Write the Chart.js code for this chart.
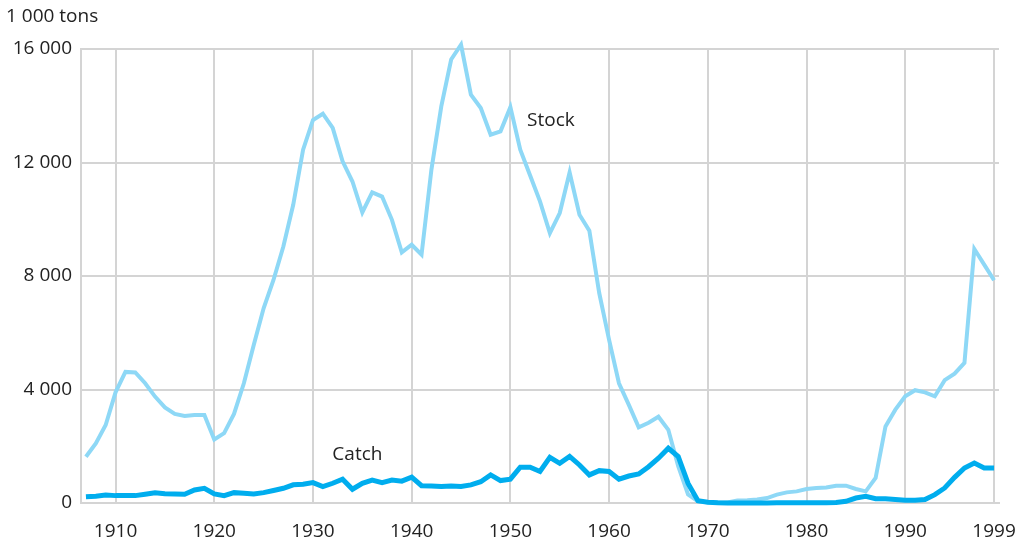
<!DOCTYPE html>
<html>
<head>
<meta charset="utf-8">
<script src="https://cdn.jsdelivr.net/npm/chart.js@4"></script>
<style>
  html, body { margin: 0; padding: 0; background: #ffffff; }
  #wrap { position: relative; width: 1020px; height: 541px; }
</style>
</head>
<body>
<div id="wrap"><canvas id="c" width="1020" height="541"></canvas></div>
<script>
const years = [1907,1908,1909,1910,1911,1912,1913,1914,1915,1916,1917,1918,1919,
  1920,1921,1922,1923,1924,1925,1926,1927,1928,1929,
  1930,1931,1932,1933,1934,1935,1936,1937,1938,1939,
  1940,1941,1942,1943,1944,1945,1946,1947,1948,1949,
  1950,1951,1952,1953,1954,1955,1956,1957,1958,1959,
  1960,1961,1962,1963,1964,1965,1966,1967,1968,1969,
  1970,1971,1972,1973,1974,1975,1976,1977,1978,1979,
  1980,1981,1982,1983,1984,1985,1986,1987,1988,1989,
  1990,1991,1992,1993,1994,1995,1996,1997,1998,1999];

const stock = [1630,2100,2750,3900,4620,4600,4220,3750,3370,3140,3070,3100,3100,
  2240,2460,3140,4220,5570,6860,7860,9040,10510,12450,
  13500,13720,13220,12040,11330,10240,10950,10800,9980,8830,
  9100,8750,11750,13980,15630,16150,14390,13920,12980,13100,
  13950,12450,11540,10630,9510,10220,11650,10160,9600,7400,
  5750,4220,3460,2670,2830,3040,2580,1300,300,60,
  30,20,20,90,95,120,175,295,375,410,
  495,530,550,610,610,495,410,880,2700,3290,
  3760,3975,3900,3760,4330,4560,4940,8950,8400,7850];

const catchData = [220,240,280,260,260,260,310,360,330,320,310,460,520,
  320,260,365,340,320,365,440,520,640,660,
  720,580,695,840,485,695,810,720,810,770,
  910,610,600,580,600,580,640,750,990,790,
  840,1260,1260,1110,1610,1400,1640,1340,990,1140,
  1110,840,950,1025,1280,1580,1930,1640,690,80,
  30,10,0,0,0,0,0,10,10,10,
  10,10,10,20,60,175,235,150,150,120,
  95,95,120,295,530,905,1235,1410,1235,1235];

const xTickLabels = [1910,1920,1930,1940,1950,1960,1970,1980,1990,1999];
const yTickValues = [0,4000,8000,12000,16000];
const unitLabel = "1 000 tons";
const seriesLabels = [
  { text: "Stock", x: 1954.1, y: 13470 },
  { text: "Catch", x: 1934.5, y: 1690 }
];

const FONT = "'Open Sans', 'Noto Sans', sans-serif";
const TEXT = "#222222";
const GRID = "#d4d4d4";

const labelPlugin = {
  id: 'labels',
  afterDatasetsDraw(chart) {
    const ctx = chart.ctx;
    const xs = chart.scales.x, ys = chart.scales.y;
    ctx.save();
    ctx.font = "19px " + FONT;
    ctx.fillStyle = TEXT;
    ctx.textBaseline = "middle";
    ctx.textAlign = "center";
    seriesLabels.forEach(l => {
      ctx.fillText(l.text, xs.getPixelForValue(l.x), ys.getPixelForValue(l.y));
    });
    ctx.textAlign = "left";
    ctx.fillText(unitLabel, 6, 17);
    ctx.restore();
  }
};

new Chart(document.getElementById('c'), {
  type: 'line',
  data: {
    datasets: [
      {
        label: 'Stock',
        data: years.map((y, i) => ({ x: y, y: stock[i] })),
        borderColor: '#8ed8f6',
        borderWidth: 4,
        pointRadius: 0,
        tension: 0,
        clip: false,
        order: 1
      },
      {
        label: 'Catch',
        data: years.map((y, i) => ({ x: y, y: catchData[i] })),
        borderColor: '#00adee',
        borderWidth: 5,
        pointRadius: 0,
        tension: 0,
        clip: false,
        order: 0
      }
    ]
  },
  options: {
    responsive: false,
    animation: false,
    events: [],
    layout: { padding: { top: 49, right: 21, left: 0, bottom: 0 } },
    plugins: { legend: { display: false }, tooltip: { enabled: false } },
    scales: {
      x: {
        type: 'linear',
        min: 1906.5,
        max: 1999.5,
        afterBuildTicks: s => { s.ticks = xTickLabels.map(v => ({ value: v })); },
        afterFit: s => { s.height = 38; s.paddingLeft = 0; s.paddingRight = 0; },
        ticks: {
          autoSkip: false,
          maxRotation: 0,
          padding: 17,
          color: TEXT,
          font: { family: FONT, size: 19 },
          callback: v => String(v)
        },
        grid: { color: GRID, lineWidth: 2, drawTicks: false },
        border: { display: true, color: GRID, width: 2 }
      },
      y: {
        min: 0,
        max: 16000,
        afterBuildTicks: s => { s.ticks = yTickValues.map(v => ({ value: v })); },
        afterFit: s => { s.width = 81; s.paddingTop = 0; s.paddingBottom = 0; },
        ticks: {
          padding: 9,
          color: TEXT,
          font: { family: FONT, size: 19 },
          callback: v => v.toLocaleString('en-US').replace(/,/g, ' ')
        },
        grid: { color: GRID, lineWidth: 2, drawTicks: false },
        border: { display: true, color: GRID, width: 2 }
      }
    }
  },
  plugins: [labelPlugin]
});
</script>
</body>
</html>
